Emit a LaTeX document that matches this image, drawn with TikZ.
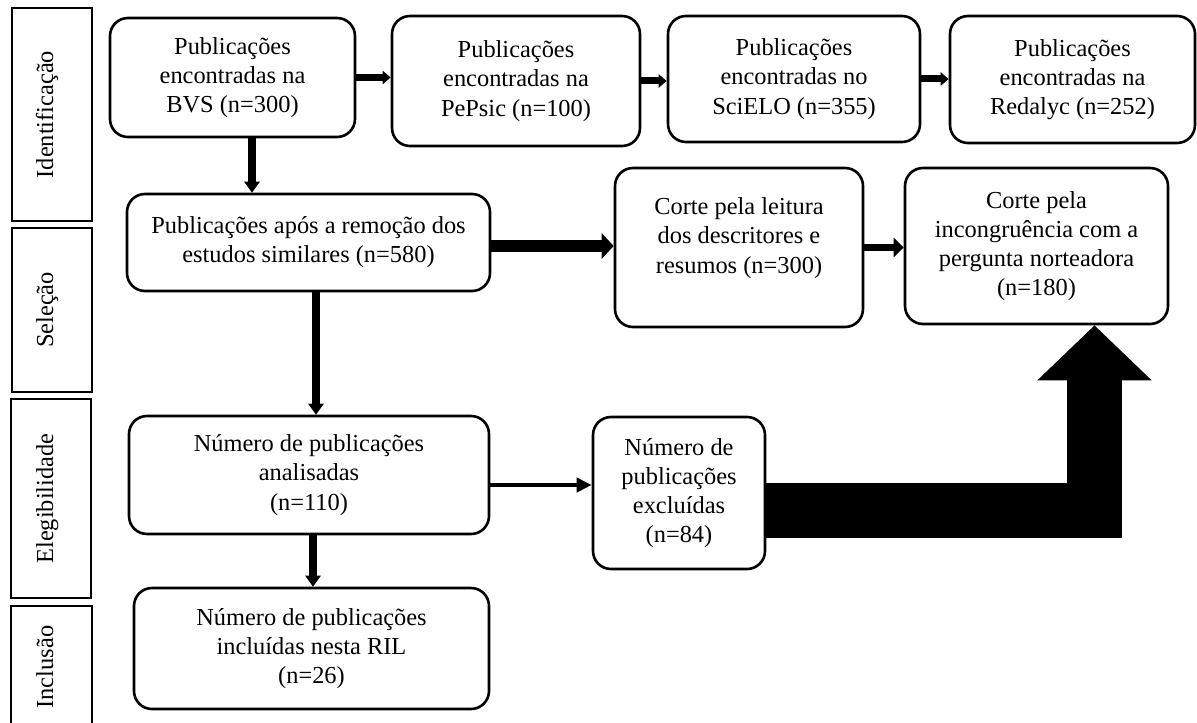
\documentclass[tikz,border=0pt]{standalone}
\usepackage{fontspec}
\setmainfont{Liberation Serif}
\usetikzlibrary{arrows.meta}
\begin{document}
\begin{tikzpicture}[x=0.5pt,y=-0.5pt,
  box/.style={draw, line width=1.3pt, rounded corners=9pt, align=center, inner sep=0pt,
    font=\fontsize{12.2pt}{14.6pt}\selectfont},
  txt/.style={align=center, inner sep=0pt, font=\fontsize{12.2pt}{14.6pt}\selectfont},
  phase/.style={draw, line width=1pt, inner sep=0pt},
  phasetxt/.style={rotate=90, anchor=base, inner sep=0pt, font=\fontsize{12.2pt}{14.6pt}\selectfont},
  arA/.style={line width=3.5pt, -{Triangle[length=4pt,width=6.5pt]}},
  arV/.style={line width=4pt, -{Triangle[length=5.5pt,width=7.5pt]}},
  arW/.style={line width=6pt, -{Triangle[length=6pt,width=12.5pt]}},
  arC/.style={line width=3.5pt, -{Triangle[length=5pt,width=9.5pt]}},
  arT/.style={line width=2pt, -{Triangle[length=7.5pt,width=7pt]}},
  bigarrow/.style={line width=27.5pt, line join=miter, -{Triangle[length=27.5pt,width=55.5pt]}}]
\useasboundingbox (0,0) rectangle (1197,722);

% phase boxes
\node[phase, minimum width=40pt, minimum height=106.5pt] (ph1) at (52,114.5) {};
\node[phase, minimum width=40pt, minimum height=82pt] (ph2) at (52,310) {};
\node[phase, minimum width=40pt, minimum height=99.5pt] (ph3) at (51,498.5) {};
\node[phase, minimum width=40.5pt, minimum height=61pt] (ph4) at (51.5,667) {};
\node[phasetxt] (ph1t) at (53,114.5) {Identificação};
\node[phasetxt] (ph2t) at (53,310) {Seleção};
\node[phasetxt] (ph3t) at (53,498.5) {Elegibilidade};
\node[phasetxt] (ph4t) at (53,667) {Inclusão};

% boxes
\node[box, minimum width=122.5pt, minimum height=59.5pt] (bvs) at (232.5,77.5) {Publicações\\encontradas na\\BVS (n=300)};
\node[box, minimum width=124pt, minimum height=65pt] (pepsic) at (516,81) {Publicações\\encontradas na\\PePsic (n=100)};
\node[box, minimum width=126pt, minimum height=63pt] (scielo) at (794,79) {Publicações\\encontradas no\\SciELO (n=355)};
\node[box, minimum width=122.5pt, minimum height=63.5pt] (redalyc) at (1072.5,79.5) {Publicações\\encontradas na\\Redalyc (n=252)};
\node[box, minimum width=181.5pt, minimum height=48.5pt] (removal) at (308.5,242.5) {Publicações após a remoção dos\\estudos similares (n=580)};
\node[box, minimum width=124pt, minimum height=79.5pt] (corte1) at (739,247.5) {};
\node[txt] (corte1t) at (739,238) {Corte pela leitura\\dos descritores e\\resumos (n=300)};
\node[box, minimum width=131.5pt, minimum height=78pt] (corte2) at (1036.5,246) {Corte pela\\incongruência com a\\pergunta norteadora\\(n=180)};
\node[box, minimum width=180pt, minimum height=59pt] (anal) at (309,475) {Número de publicações\\analisadas\\(n=110)};
\node[box, minimum width=86pt, minimum height=76pt] (excl) at (679,493) {Número de\\publicações\\excluídas\\(n=84)};
\node[box, minimum width=177.5pt, minimum height=60.5pt] (incl) at (311.5,648.5) {Número de publicações\\incluídas nesta RIL\\(n=26)};

% connectors
\draw[arA] (bvs.east) -- (bvs.east -| pepsic.west);
\draw[arA] (pepsic.east) -- (pepsic.east -| scielo.west);
\draw[arA] (scielo.east) -- (scielo.east -| redalyc.west);

\coordinate (b1) at ([xshift=9.75pt]bvs.south);
\draw[arV] (b1) -- (b1 |- removal.north);

\coordinate (r1) at ([yshift=-1.75pt]removal.east);
\draw[arW] (r1) -- (r1 -| corte1.west);

\draw[arC] (corte1.east) -- (corte1.east -| corte2.west);

\coordinate (r2) at ([xshift=3.75pt]removal.south);
\draw[arV] (r2) -- (r2 |- anal.north);

\coordinate (a1) at ([xshift=2pt]anal.south);
\draw[arV] (a1) -- (a1 |- incl.north);

\coordinate (a2) at ([yshift=-5pt]anal.east);
\draw[arT] (a2) -- (a2 -| excl.west);

\coordinate (bandy) at (0,510.5);
\coordinate (shaftx) at (1094.5,0);
\draw[bigarrow] (excl.east |- bandy) -| (shaftx |- corte2.south);
\end{tikzpicture}
\end{document}
